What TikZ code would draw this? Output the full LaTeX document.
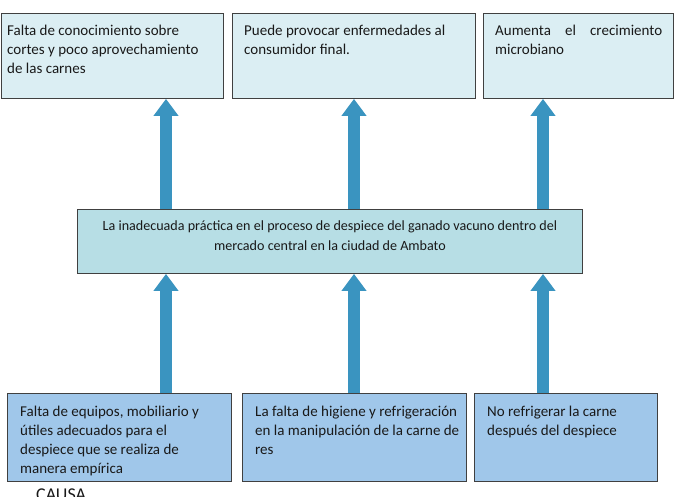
\documentclass[tikz,border=0pt]{standalone}
\usepackage{fontspec}
\setmainfont{Carlito}
\usetikzlibrary{positioning,arrows.meta}

\definecolor{efectofill}{RGB}{219,238,243}
\definecolor{problemafill}{RGB}{183,222,229}
\definecolor{causafill}{RGB}{160,199,234}
\definecolor{flecha}{RGB}{58,148,192}
\definecolor{borde}{RGB}{64,64,64}
\definecolor{letra}{RGB}{25,25,25}

\begin{document}
\begin{tikzpicture}[
x=1pt, y=-1pt,
caja/.style={
    draw=borde,
    line width=0.9pt,
    anchor=north west,
    inner sep=0pt
},
efecto/.style={caja, fill=efectofill, minimum height=85pt},
problema/.style={caja, fill=problemafill, minimum height=64pt},
causa/.style={caja, fill=causafill, minimum height=88pt},
texto/.style={
    anchor=north west,
    inner sep=0pt,
    align=left,
    text=letra,
    font=\fontsize{15}{19}\selectfont
},
flechazo/.style={
    draw=flecha,
    line width=12pt,
    -{Triangle[length=17pt,width=24pt]}
}
]

\useasboundingbox[fill=white] (0,0) rectangle (678,496);

% efectos
\node (e1) [efecto, minimum width=222pt] at (1,13) {};
\node (e2) [efecto, minimum width=243pt] at (232,13) {};
\node (e3) [efecto, minimum width=190pt] at (483,13) {};

% problema central
\node (prob) [problema, minimum width=505pt] at (77,209) {};

% causas
\node (c1) [causa, minimum width=224pt] at (7,393) {};
\node (c2) [causa, minimum width=224pt] at (242,393) {};
\node (c3) [causa, minimum width=183pt] at (474,393) {};

% textos
\node (e1t) [texto, below right=12pt and 6pt of e1.north west]
{Falta de conocimiento sobre\\cortes y poco aprovechamiento\\de las carnes};
\node (e2t) [texto, below right=12pt and 12pt of e2.north west]
{Puede provocar enfermedades al\\consumidor final.};
\node (e3t) [texto, text width=167pt, below right=12pt and 12pt of e3.north west]
{Aumenta\hfill el\hfill crecimiento\\microbiano};

\node (probt) [texto, anchor=north, align=center, font=\fontsize{14.1}{20}\selectfont, below=12pt of prob.north]
{La inadecuada práctica en el proceso de despiece del ganado vacuno dentro del\\mercado central en la ciudad de Ambato};

\node (c1t) [texto, below right=13pt and 13pt of c1.north west]
{Falta de equipos, mobiliario y\\útiles adecuados para el\\despiece que se realiza de\\manera empírica};
\node (c2t) [texto, below right=13pt and 13pt of c2.north west]
{La falta de higiene y refrigeración\\en la manipulación de la carne de\\res};
\node (c3t) [texto, below right=13pt and 13pt of c3.north west]
{No refrigerar la carne\\después del despiece};

\node (causat) [texto, font=\fontsize{18}{20}\selectfont] at (36,489) {CAUSA};

% posiciones de las flechas
\coordinate (f1) at (166,0);
\coordinate (f2) at (354,0);
\coordinate (f3) at (543,0);

\draw[flechazo] (prob.north -| f1) -- (e1.south -| f1);
\draw[flechazo] (prob.north -| f2) -- (e2.south -| f2);
\draw[flechazo] (prob.north -| f3) -- (e3.south -| f3);

\draw[flechazo] (c1.north -| f1) -- (prob.south -| f1);
\draw[flechazo] (c2.north -| f2) -- (prob.south -| f2);
\draw[flechazo] (c3.north -| f3) -- (prob.south -| f3);

\end{tikzpicture}
\end{document}
